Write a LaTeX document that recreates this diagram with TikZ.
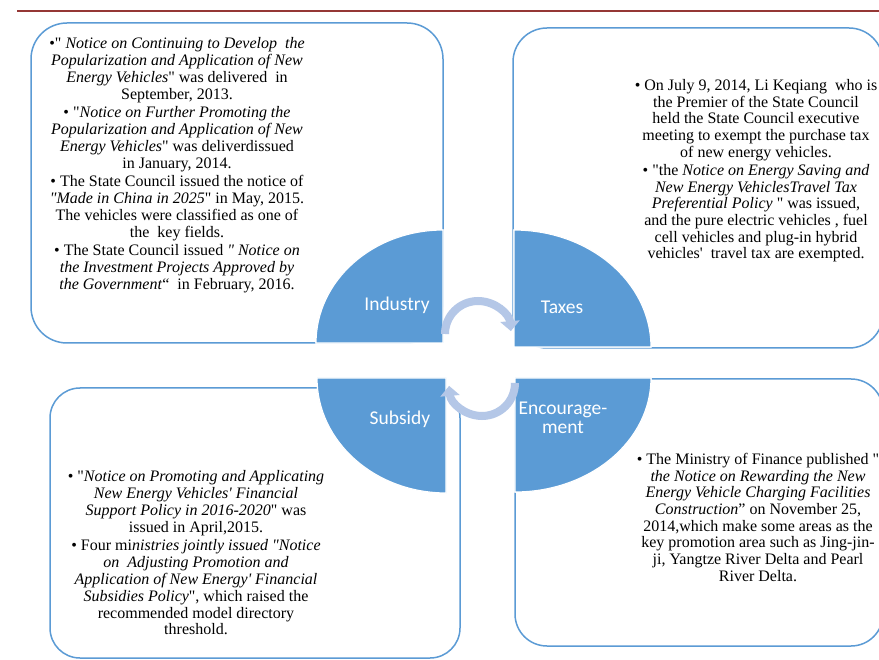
\documentclass[tikz,border=0pt]{standalone}
\usepackage{fontspec}
\setmainfont{Liberation Serif}[Ligatures=TeXOff]
\newfontfamily\lblfont{Carlito}
\usetikzlibrary{arrows.meta}
\definecolor{qblue}{RGB}{91,155,213}
\definecolor{lblue}{RGB}{180,199,231}
\definecolor{dred}{RGB}{149,55,53}
\begin{document}
\begin{tikzpicture}[x=1pt,y=-1pt,
  box/.style={draw=qblue, line width=1.5pt},
  quarter/.style={fill=qblue, draw=white, line width=1.2pt},
  lbl/.style={text=white, font=\lblfont\fontsize{19.5}{19}\selectfont, align=center, inner sep=0pt},
  txt/.style={align=center, inner sep=0pt, anchor=north, font=\fontsize{16}{16.9}\selectfont},
  txtb/.style={align=center, inner sep=0pt, anchor=north, font=\fontsize{16}{16.7}\selectfont},
  cyc/.style={draw=lblue, line width=8pt, -{Triangle[length=10pt,width=19pt]}}
]
\clip (0,0) rectangle (879,660);
\fill[white] (0,0) rectangle (879,660);
% red rule
\coordinate (rl) at (17,11);
\coordinate (rr) at (879,11);
\draw[dred, line width=2.5pt] (rl) -- (rr);
% boxes
\draw[box, rounded corners=36pt] (31,23) rectangle (443,343);
\draw[box, rounded corners=34pt] (513,28) rectangle (883,348);
\draw[box, rounded corners=30pt] (50,388) rectangle (460,658);
\draw[box, rounded corners=32pt] (515,379) rectangle (883,646);
% quarters
\fill[quarter] (443,343) -- (316,343) arc[start angle=180, end angle=270, x radius=127, y radius=113] -- cycle;
\fill[quarter] (514,347) -- (514,230) arc[start angle=270, end angle=360, x radius=137, y radius=117] -- cycle;
\fill[quarter] (446,378) -- (317,378) arc[start angle=180, end angle=90, x radius=129, y radius=115] -- cycle;
\fill[quarter] (515,378) -- (651,378) arc[start angle=0, end angle=90, x radius=136, y radius=114] -- cycle;
\draw[quarter] (443,343) -- (316,343) arc[start angle=180, end angle=270, x radius=127, y radius=113] -- cycle;
\draw[quarter] (514,347) -- (514,230) arc[start angle=270, end angle=360, x radius=137, y radius=117] -- cycle;
\draw[quarter] (446,378) -- (317,378) arc[start angle=180, end angle=90, x radius=129, y radius=115] -- cycle;
\draw[quarter] (515,378) -- (651,378) arc[start angle=0, end angle=90, x radius=136, y radius=114] -- cycle;
% cycle arrows
\coordinate (a1) at (445,334);
\coordinate (a2) at (515,383);
\draw[cyc] (a1) arc[start angle=180, end angle=355, radius=33];
\draw[cyc] (a2) arc[start angle=0, end angle=175, radius=33];
% labels
\node[lbl] (ind) at (397,305) {Industry};
\node[lbl] (tax) at (562,307) {Taxes};
\node[lbl] (sub) at (400,419) {Subsidy};
\node[lbl] (enc) at (563,418) {Encourage-\\ment};
% texts
\node[txt] (tl) at (177,37) {\textbullet"\ \textit{Notice on Continuing to Develop\ \ the}\\
\textit{Popularization and Application of New}\\
\textit{Energy Vehicles}" was delivered\ \ in\\
September, 2013.\\[1.5pt]
\textbullet\ "\textit{Notice on Further Promoting the}\\
\textit{Popularization and Application of New}\\
\textit{Energy Vehicles}" was deliverdissued\\
in January, 2014.\\[1.5pt]
\textbullet\ The State Council issued the notice of\\
\textit{"Made in China in 2025}" in May, 2015.\\
The vehicles were classified as one of\\
the\ \ key fields.\\[1.5pt]
\textbullet\ The State Council issued \textit{" Notice on}\\
\textit{the Investment Projects Approved by}\\
\textit{the Government}“\ \ in February, 2016.};
\node[txtb] (tr) at (756,79) {\textbullet\ On July 9, 2014, Li Keqiang\ \ who is\\
the Premier of the State Council\\
held the State Council executive\\
meeting to exempt the purchase tax\\
of new energy vehicles.\\[1.5pt]
\textbullet\ "the \textit{Notice on Energy Saving and}\\
\textit{New Energy VehiclesTravel Tax}\\
\textit{Preferential Policy} " was issued,\\
and the pure electric vehicles , fuel\\
cell vehicles and plug-in hybrid\\
vehicles'\ \ travel tax are exempted.};
\node[txt] (bl) at (196,470) {\textbullet\ "\textit{Notice on Promoting and Applicating}\\
\textit{New Energy Vehicles' Financial}\\
\textit{Support Policy in 2016-2020}" was\\
issued in April,2015.\\[1.5pt]
\textbullet\ Four mi\textit{nistries jointly issued "Notice}\\
\textit{on\ \ Adjusting Promotion and}\\
\textit{Application of New Energy' Financial}\\
\textit{Subsidies Policy}", which raised the\\
recommended model directory\\
threshold.};
\node[txtb] (br) at (758,453) {\textbullet\ The Ministry of Finance published "\\
\textit{the Notice on Rewarding the New}\\
\textit{Energy Vehicle Charging Facilities}\\
\textit{Construction}” on November 25,\\
2014,which make some areas as the\\
key promotion area such as Jing-jin-\\
ji, Yangtze River Delta and Pearl\\
River Delta.};
\end{tikzpicture}
\end{document}
